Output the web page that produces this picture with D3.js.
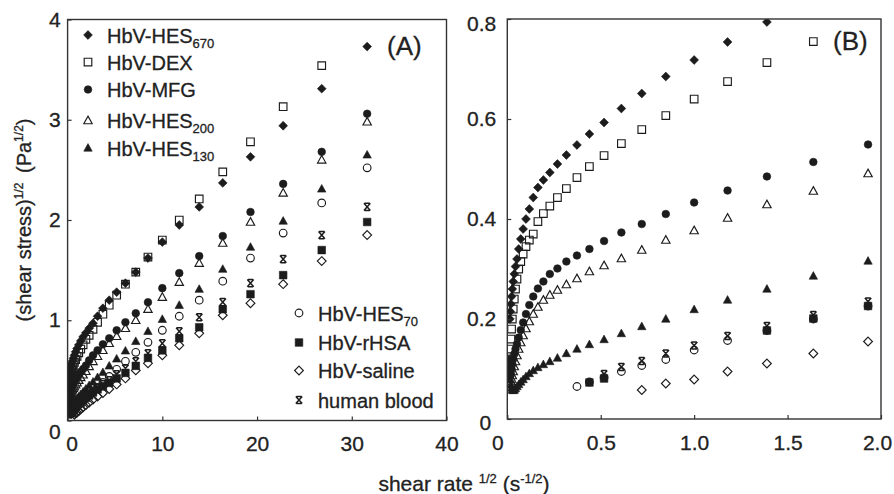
<!DOCTYPE html>
<html>
<head>
<meta charset="utf-8">
<script src="https://cdn.jsdelivr.net/npm/d3@7"></script>
<style>
  html, body { margin: 0; padding: 0; background: #fff; }
  svg text { font-family: "Liberation Sans", Arial, Helvetica, sans-serif; fill: #222; stroke: #222; stroke-width: 0.3px; }
</style>
</head>
<body>
<svg id="chart" width="894" height="494"></svg>
<script>
// square root of shear rate (s^-1/2), 7 steps per decade of shear rate
const sqrtRate = [
  0.0100, 0.0118, 0.0139, 0.0164, 0.0193, 0.0228, 0.0268, 0.0316, 0.0373, 0.0439,
  0.0518, 0.0611, 0.0720, 0.0848, 0.1000, 0.1179, 0.1389, 0.1638, 0.1931, 0.2276,
  0.2683, 0.3162, 0.3728, 0.4394, 0.5179, 0.6105, 0.7197, 0.8483, 1.0000, 1.1788,
  1.3895, 1.6379, 1.9307, 2.2758, 2.6827, 3.1623, 3.7276, 4.3940, 5.1795, 6.1054,
  7.1969, 8.4834, 10.000, 11.788, 13.895, 16.379, 19.307, 22.758, 26.827, 31.623
];

// (shear stress)^1/2 in Pa^1/2, one value per shear rate above (null = not measured)
const hes670 = [
  null, null, 0.200, 0.215, 0.230, 0.245, 0.260, 0.275, 0.290, 0.305,
  0.320, 0.340, 0.360, 0.380, 0.400, 0.420, 0.443, 0.463, 0.478, 0.493,
  0.510, 0.528, 0.548, 0.570, 0.593, 0.621, 0.651, 0.685, 0.718, 0.754,
  0.794, 0.835, 0.875, 0.920, 0.970, 1.040, 1.120, 1.200, 1.280, 1.370,
  1.480, 1.620, 1.780, 1.950, 2.130, 2.370, 2.630, 2.940, 3.310, 3.730
];
const dex = [
  0.090, 0.105, 0.120, 0.140, 0.160, 0.180, 0.200, 0.220, 0.240, 0.260,
  0.280, 0.300, 0.315, 0.330, 0.345, 0.358, 0.370, 0.395, 0.411, 0.426,
  0.443, 0.461, 0.483, 0.505, 0.527, 0.551, 0.579, 0.607, 0.640, 0.675,
  0.713, 0.755, 0.810, 0.850, 0.910, 0.980, 1.060, 1.150, 1.250, 1.360,
  1.480, 1.630, 1.800, 2.000, 2.210, 2.480, 2.780, 3.130, 3.540, null
];
const mfg = [
  null, null, null, null, 0.090, 0.100, 0.110, 0.120, 0.130, 0.140,
  0.150, 0.163, 0.178, 0.193, 0.210, 0.228, 0.245, 0.261, 0.275, 0.290,
  0.301, 0.315, 0.327, 0.340, 0.356, 0.373, 0.390, 0.410, 0.433, 0.457,
  0.485, 0.514, 0.549, 0.600, 0.650, 0.700, 0.760, 0.820, 0.900, 0.980,
  1.070, 1.180, 1.320, 1.470, 1.640, 1.840, 2.080, 2.360, 2.680, 3.060
];
const hes200 = [
  null, null, null, null, 0.075, 0.080, 0.087, 0.095, 0.105, 0.115,
  0.127, 0.140, 0.153, 0.167, 0.181, 0.195, 0.210, 0.224, 0.238, 0.248,
  0.258, 0.269, 0.281, 0.295, 0.307, 0.321, 0.338, 0.358, 0.377, 0.402,
  0.429, 0.456, 0.491, 0.540, 0.590, 0.640, 0.700, 0.770, 0.840, 0.920,
  1.000, 1.110, 1.230, 1.380, 1.570, 1.770, 1.980, 2.270, 2.600, 2.980
];
const hes130 = [
  0.120, 0.105, 0.090, 0.078, 0.068, 0.062, 0.058, 0.057, 0.058, 0.061,
  0.065, 0.069, 0.074, 0.079, 0.085, 0.091, 0.097, 0.103, 0.109, 0.115,
  0.122, 0.131, 0.140, 0.149, 0.159, 0.171, 0.185, 0.200, 0.219, 0.238,
  0.260, 0.286, 0.316, 0.350, 0.385, 0.430, 0.480, 0.545, 0.615, 0.695,
  0.790, 0.890, 1.010, 1.150, 1.310, 1.510, 1.730, 1.990, 2.310, 2.650
];
const hes70 = [
  null, null, null, null, null, null, null, null, null, null,
  null, null, null, null, null, null, null, null, null, null,
  null, null, 0.065, 0.074, 0.083, 0.095, 0.107, 0.119, 0.138, 0.157,
  0.177, 0.200, 0.226, 0.255, 0.290, 0.330, 0.380, 0.440, 0.510, 0.590,
  0.680, 0.780, 0.900, 1.040, 1.200, 1.390, 1.620, 1.870, 2.170, 2.520
];
const rhsa = [
  null, null, null, null, null, null, null, null, null, null,
  null, null, null, null, null, null, null, null, null, null,
  null, null, null, 0.073, 0.081, null, null, null, null, null,
  0.177, 0.201, 0.226, 0.250, 0.280, 0.310, 0.340, 0.375, 0.420, 0.475,
  0.545, 0.625, 0.700, 0.820, 0.930, 1.110, 1.260, 1.450, 1.700, 1.980
];
const saline = [
  null, null, null, null, null, null, null, null, null, null,
  null, null, null, null, null, null, null, null, null, null,
  null, null, null, null, null, null, 0.058, 0.071, 0.079, 0.095,
  0.111, 0.131, 0.155, 0.180, 0.210, 0.240, 0.275, 0.315, 0.360, 0.420,
  0.500, 0.570, 0.650, 0.750, 0.870, 1.050, 1.170, 1.360, 1.590, 1.850
];
const blood = [
  null, null, null, null, null, null, null, null, null, null,
  null, null, null, null, null, null, null, null, null, null,
  null, null, null, null, 0.090, 0.104, 0.116, 0.131, 0.147, 0.166,
  0.186, 0.208, 0.235, 0.260, 0.290, 0.320, 0.360, 0.400, 0.460, 0.520,
  0.590, 0.670, 0.770, 0.890, 1.030, 1.180, 1.370, 1.610, 1.850, 2.130
];

// legend labels: [main text, subscript]
const labels = [
  ["HbV-HES", "670"], ["HbV-DEX", ""], ["HbV-MFG", ""], ["HbV-HES", "200"], ["HbV-HES", "130"],
  ["HbV-HES", "70"], ["HbV-rHSA", ""], ["HbV-saline", ""], ["human blood", ""]
];
const values = [hes670, dex, mfg, hes200, hes130, hes70, rhsa, saline, blood];

// axis ticks
const ticksAx = [0, 10, 20, 30, 40];
const ticksAy = [0, 1, 2, 3, 4];
const ticksBx = [0, 0.5, 1.0, 1.5, 2.0];
const ticksBy = [0, 0.2, 0.4, 0.6, 0.8];

// marker styles per series
const markers = [
  { shape: "diamond", filled: true },
  { shape: "square", filled: false },
  { shape: "circle", filled: true },
  { shape: "triangle", filled: false },
  { shape: "triangle", filled: true },
  { shape: "circle", filled: false },
  { shape: "square", filled: true },
  { shape: "diamond", filled: false },
  { shape: "cross", filled: false }
];

const ink = "#1c1c1c";
function markerPath(shape) {
  switch (shape) {
    case "diamond": return "M0,-4.4L4.4,0L0,4.4L-4.4,0Z";
    case "square": return "M-3.8,-3.8h7.6v7.6h-7.6Z";
    case "circle": return d3.symbol(d3.symbolCircle, 46)();
    case "triangle": return "M0,-4.4L4.2,3.2L-4.2,3.2Z";
    case "cross": return "M-3.2,-3.6L3.2,3.6M3.2,-3.6L-3.2,3.6M-2.6,-3.6h5.2M-2.6,3.6h5.2";
  }
}
function drawMarker(sel, m) {
  sel.append("path")
    .attr("d", markerPath(m.shape))
    .attr("fill", m.filled ? ink : "none")
    .attr("stroke", ink)
    .attr("stroke-width", m.shape === "cross" ? 1.5 : (m.filled ? 0.6 : 1.15));
}

const svg = d3.select("#chart");

function panel(id, x, y, xt, yt, xfmt, yfmt) {
  const [x0, x1] = x.range();
  const [y0, y1] = y.range();
  const g = svg.append("g");

  svg.append("clipPath").attr("id", id)
    .append("rect").attr("x", x0).attr("y", y1).attr("width", x1 - x0).attr("height", y0 - y1);

  // data points
  const plot = g.append("g").attr("clip-path", `url(#${id})`);
  values.forEach((vals, si) => {
    const pts = sqrtRate.map((r, i) => ({ r, v: vals[i] }))
      .filter(d => d.v != null && d.r <= x.domain()[1]);
    plot.append("g").selectAll("g").data(pts).join("g")
      .attr("transform", d => `translate(${x(d.r)},${y(d.v)})`)
      .each(function () { drawMarker(d3.select(this), markers[si]); });
  });

  // axes with inward ticks
  const ax = g.append("g").attr("transform", `translate(0,${y0})`)
    .call(d3.axisBottom(x).tickValues(xt).tickFormat(xfmt).tickSizeInner(-4).tickSizeOuter(0).tickPadding(16));
  const ay = g.append("g").attr("transform", `translate(${x0},0)`)
    .call(d3.axisLeft(y).tickValues(yt).tickFormat(yfmt).tickSizeInner(-4).tickSizeOuter(0).tickPadding(7));
  [ax, ay].forEach(a => {
    a.select(".domain").remove();
    a.selectAll("line").attr("stroke", "#333").attr("stroke-width", 1.2);
    a.selectAll("text").attr("font-size", 21).attr("fill", "#222")
      .attr("font-family", '"Liberation Sans", Arial, sans-serif');
  });

  // frame
  g.append("rect").attr("x", x0).attr("y", y1).attr("width", x1 - x0).attr("height", y0 - y1)
    .attr("fill", "none").attr("stroke", "#333").attr("stroke-width", 1.4);
  return { g, ax, ay };
}

const xA = d3.scaleLinear().domain([0, 40]).range([67.6, 446.5]);
const yA = d3.scaleLinear().domain([0, 4]).range([420.5, 19.5]);
const xB = d3.scaleLinear().domain([0, 2]).range([507.3, 881]);
const yB = d3.scaleLinear().domain([0, 0.8]).range([419, 19]);

const fmtB = d => d === 0 ? "0" : d3.format(".1f")(d);
const pA = panel("clipA", xA, yA, ticksAx, ticksAy, d3.format("d"), d3.format("d"));
const pB = panel("clipB", xB, yB, ticksBx, ticksBy, fmtB, fmtB);

// nudge the zero labels apart at each origin, keep the last label inside the page
pA.ax.selectAll(".tick").filter(d => d === 0).select("text").attr("dx", 4);
pA.ay.selectAll(".tick").filter(d => d === 0).select("text").attr("dy", "0.84em");
pB.ax.selectAll(".tick").filter(d => d === 0).select("text").attr("dx", -10);
pB.ax.selectAll(".tick").filter(d => d === 2).select("text").attr("dx", -4);
pB.ay.selectAll("text").attr("dx", -4);
pB.ay.selectAll(".tick").filter(d => d === 0).select("text").attr("dy", "0.5em").attr("dx", -9);
pB.ay.selectAll(".tick").filter(d => d === 0.8).select("text").attr("dy", "0.55em");

// panel tags
svg.append("text").attr("x", 387).attr("y", 55).text("(A)")
  .attr("font-family", '"Liberation Serif", "Times New Roman", serif').attr("font-size", 26);
svg.append("text").attr("x", 833).attr("y", 50).text("(B)")
  .attr("font-family", '"Liberation Serif", "Times New Roman", serif').attr("font-size", 26);

// legends inside panel A
function legendRow(x, y, si) {
  const g = svg.append("g");
  const m = g.append("g").attr("transform", `translate(${x},${y})`);
  drawMarker(m, markers[si]);
  const t = g.append("text").attr("x", x + 19).attr("y", y + 7.5).attr("font-size", 20);
  t.append("tspan").text(labels[si][0]);
  if (labels[si][1]) t.append("tspan").attr("font-size", 13).attr("dy", 5).text(labels[si][1]);
}
[35, 62, 89.5, 120.5, 148].forEach((yy, i) => legendRow(88, yy, i));
[313, 342.5, 370.5, 400].forEach((yy, i) => legendRow(299, yy, i + 5));

// axis titles
const xt = svg.append("text").attr("x", 464).attr("y", 491).attr("text-anchor", "middle").attr("font-size", 21);
xt.append("tspan").text("shear rate ");
xt.append("tspan").attr("font-size", 13).attr("dy", -8).text("1/2");
xt.append("tspan").attr("dy", 8).text(" (s");
xt.append("tspan").attr("font-size", 13).attr("dy", -8).text("-1/2");
xt.append("tspan").attr("dy", 8).text(")");

const yt = svg.append("text").attr("transform", "translate(31,220) rotate(-90)")
  .attr("text-anchor", "middle").attr("font-size", 20);
yt.append("tspan").text("(shear stress)");
yt.append("tspan").attr("font-size", 12).attr("dy", -8).text("1/2");
yt.append("tspan").attr("dy", 8).text("\u2009 (Pa");
yt.append("tspan").attr("font-size", 12).attr("dy", -8).text("1/2");
yt.append("tspan").attr("dy", 8).text(")");
</script>
</body>
</html>
